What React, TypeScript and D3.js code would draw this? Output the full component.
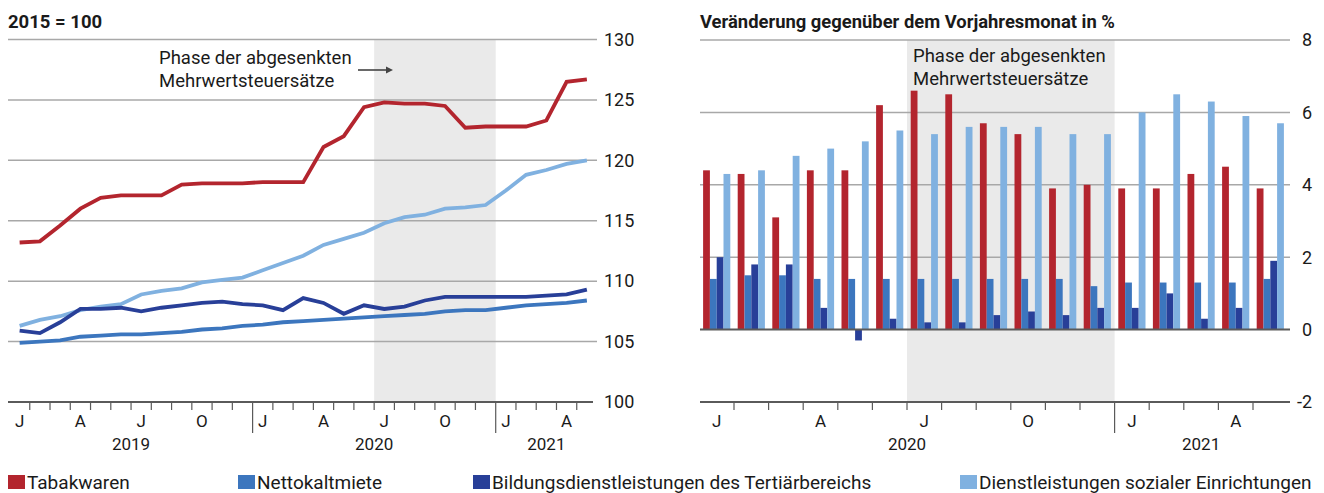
import * as d3 from "d3";

// index line chart, Jan 2019 - May 2021 (2015 = 100)
const monthsL = ["J","F","M","A","M","J","J","A","S","O","N","D","J","F","M","A","M","J","J","A","S","O","N","D","J","F","M","A","M"];
const tabakIdx = [113.2,113.3,114.6,116.0,116.9,117.1,117.1,117.1,118.0,118.1,118.1,118.1,118.2,118.2,118.2,121.1,122.0,124.4,124.8,124.7,124.7,124.5,122.7,122.8,122.8,122.8,123.3,126.5,126.7];
const mieteIdx = [104.9,105.0,105.1,105.4,105.5,105.6,105.6,105.7,105.8,106.0,106.1,106.3,106.4,106.6,106.7,106.8,106.9,107.0,107.1,107.2,107.3,107.5,107.6,107.6,107.8,108.0,108.1,108.2,108.4];
const bildungIdx = [105.9,105.7,106.6,107.7,107.7,107.8,107.5,107.8,108.0,108.2,108.3,108.1,108.0,107.6,108.6,108.2,107.3,108.0,107.7,107.9,108.4,108.7,108.7,108.7,108.7,108.7,108.8,108.9,109.3];
const sozialIdx = [106.3,106.8,107.1,107.6,107.9,108.1,108.9,109.2,109.4,109.9,110.1,110.3,110.9,111.5,112.1,113.0,113.5,114.0,114.8,115.3,115.5,116.0,116.1,116.3,117.5,118.8,119.2,119.7,120.0];
const yearsL = ["2019", "2020", "2021"];
const ticksL = [100, 105, 110, 115, 120, 125, 130];

// change vs. previous-year month, Jan 2020 - May 2021 (%)
const monthsR = ["J","F","M","A","M","J","J","A","S","O","N","D","J","F","M","A","M"];
const tabakChg = [4.4,4.3,3.1,4.4,4.4,6.2,6.6,6.5,5.7,5.4,3.9,4.0,3.9,3.9,4.3,4.5,3.9];
const mieteChg = [1.4,1.5,1.5,1.4,1.4,1.4,1.4,1.4,1.4,1.4,1.4,1.2,1.3,1.3,1.3,1.3,1.4];
const bildungChg = [2.0,1.8,1.8,0.6,-0.3,0.3,0.2,0.2,0.4,0.5,0.4,0.6,0.6,1.0,0.3,0.6,1.9];
const sozialChg = [4.3,4.4,4.8,5.0,5.2,5.5,5.4,5.6,5.6,5.6,5.4,5.4,6.0,6.5,6.3,5.9,5.7];
const yearsR = ["2020", "2021"];
const ticksR = [-2, 0, 2, 4, 6, 8];

const seriesNames = ["Tabakwaren", "Nettokaltmiete", "Bildungsdienstleistungen des Tertiärbereichs", "Dienstleistungen sozialer Einrichtungen"];
const colors = ["#b3252e", "#3c76be", "#283f98", "#80b1e0"];

const FONT = "Roboto, 'Noto Sans', sans-serif";
const GRID = "#a8a8a8";
const AXIS = "#5a5a5a";
const SHADE = "#eaeaea";

const App = () => {
  // left chart scales
  const xL = d3.scaleBand<number>().domain(d3.range(monthsL.length)).range([9.5, 597]).padding(0);
  const bwL = xL.bandwidth();
  const cxL = (i: number) => (xL(i) as number) + bwL / 2;
  const yL = d3.scaleLinear().domain([100, 130]).range([402, 39.5]);
  const lineGen = d3.line<number>().x((_, i) => cxL(i)).y((d) => yL(d));
  const linesL = [
    { vals: sozialIdx, color: colors[3] },
    { vals: mieteIdx, color: colors[1] },
    { vals: bildungIdx, color: colors[2] },
    { vals: tabakIdx, color: colors[0] },
  ];

  // right chart scales
  const xR = d3.scaleBand<number>().domain(d3.range(monthsR.length)).range([699.4, 1287.6]).padding(0);
  const bwR = xR.bandwidth();
  const xInner = d3.scaleBand<number>().domain([0, 1, 2, 3]).range([(bwR - 27.2) / 2, (bwR + 27.2) / 2]);
  const yR = d3.scaleLinear().domain([-2, 8]).range([402, 40]);
  const barSeries = [tabakChg, mieteChg, bildungChg, sozialChg];

  const shadeL0 = xL(18) as number;
  const shadeL1 = (xL(23) as number) + bwL;
  const shadeR0 = xR(6) as number;
  const shadeR1 = (xR(11) as number) + bwR;

  const txt = { fontFamily: FONT, fill: "#1a1a1a" };

  return (
    <svg width={1324} height={493} style={{ position: "absolute", left: 0, top: 0, background: "#fff" }}>
      {/* ---------- left chart ---------- */}
      <rect x={shadeL0} y={yL(130)} width={shadeL1 - shadeL0} height={yL(100) - yL(130)} fill={SHADE} />
      {ticksL.filter((t) => t > 100).map((t) => (
        <line key={t} x1={8} x2={597} y1={yL(t)} y2={yL(t)} stroke={GRID} strokeWidth={1.5} />
      ))}
      {ticksL.map((t) => (
        <text key={t} x={604} y={yL(t)} dy="0.35em" fontSize={18} {...txt}>{t}</text>
      ))}
      <text x={8} y={28} fontSize={18.5} fontWeight="bold" {...txt}>2015 = 100</text>
      <text x={159} y={64} fontSize={18.5} {...txt}>Phase der abgesenkten</text>
      <text x={159} y={87} fontSize={18.5} {...txt}>Mehrwertsteuersätze</text>
      <line x1={358} x2={388} y1={70} y2={70} stroke="#444" strokeWidth={1.6} />
      <path d="M393,70 L386,66.5 L386,73.5 Z" fill="#444" />

      {linesL.map((s, k) => (
        <path key={k} d={lineGen(s.vals) as string} fill="none" stroke={s.color} strokeWidth={3.8} strokeLinejoin="miter" />
      ))}

      <line x1={8} x2={593} y1={yL(100)} y2={yL(100)} stroke={AXIS} strokeWidth={2.2} />
      {d3.range(1, monthsL.length).map((i) => (
        <line key={i} x1={xL(i) as number} x2={xL(i) as number} y1={yL(100)} y2={i % 12 === 0 ? 433 : 410} stroke={AXIS} strokeWidth={1.2} />
      ))}
      {monthsL.map((m, i) => (i % 3 === 0 ? (
        <text key={i} x={cxL(i)} y={427} textAnchor="middle" fontSize={17} {...txt}>{m}</text>
      ) : null))}
      {yearsL.map((yr, k) => {
        const a = xL(k * 12) as number;
        const b = (xL(Math.min(k * 12 + 11, monthsL.length - 1)) as number) + bwL;
        return <text key={yr} x={(a + b) / 2} y={450} textAnchor="middle" fontSize={17} {...txt}>{yr}</text>;
      })}

      {/* ---------- right chart ---------- */}
      <rect x={shadeR0} y={yR(8)} width={shadeR1 - shadeR0} height={yR(-2) - yR(8)} fill={SHADE} />
      {ticksR.filter((t) => t > 0).map((t) => (
        <line key={t} x1={700} x2={1290} y1={yR(t)} y2={yR(t)} stroke={GRID} strokeWidth={1.5} />
      ))}
      {ticksR.map((t) => (
        <text key={t} x={1312} y={yR(t)} dy="0.35em" textAnchor="end" fontSize={18} {...txt}>{t}</text>
      ))}
      <text x={700} y={28} fontSize={18.4} fontWeight="bold" {...txt}>Veränderung gegenüber dem Vorjahresmonat in %</text>
      <text x={913} y={62} fontSize={18.5} {...txt}>Phase der abgesenkten</text>
      <text x={913} y={85} fontSize={18.5} {...txt}>Mehrwertsteuersätze</text>

      {barSeries.map((vals, k) => (
        <g key={k}>
          {vals.map((v, i) => (
            <rect key={i} x={(xR(i) as number) + (xInner(k) as number)} width={xInner.bandwidth()}
              y={yR(Math.max(0, v))} height={Math.abs(yR(v) - yR(0))} fill={colors[k]} />
          ))}
        </g>
      ))}
      <line x1={700} x2={1290} y1={yR(0)} y2={yR(0)} stroke={AXIS} strokeWidth={2} />
      <line x1={700} x2={1290} y1={yR(-2)} y2={yR(-2)} stroke={AXIS} strokeWidth={2.2} />
      {d3.range(1, monthsR.length).map((i) => (
        <line key={i} x1={xR(i) as number} x2={xR(i) as number} y1={yR(-2)} y2={i % 12 === 0 ? 433 : 410} stroke={AXIS} strokeWidth={1.2} />
      ))}
      {monthsR.map((m, i) => (i % 3 === 0 ? (
        <text key={i} x={(xR(i) as number) + bwR / 2} y={427} textAnchor="middle" fontSize={17} {...txt}>{m}</text>
      ) : null))}
      {yearsR.map((yr, k) => {
        const a = xR(k * 12) as number;
        const b = (xR(Math.min(k * 12 + 11, monthsR.length - 1)) as number) + bwR;
        return <text key={yr} x={(a + b) / 2} y={450} textAnchor="middle" fontSize={17} {...txt}>{yr}</text>;
      })}

      {/* ---------- legend ---------- */}
      {seriesNames.map((name, k) => {
        const lx = [8, 238, 473, 960][k];
        return (
          <g key={name}>
            <rect x={lx} y={475} width={17} height={14} fill={colors[k]} />
            <text x={lx + 19} y={489} fontSize={19} {...txt}>{name}</text>
          </g>
        );
      })}
    </svg>
  );
};

export default App;
